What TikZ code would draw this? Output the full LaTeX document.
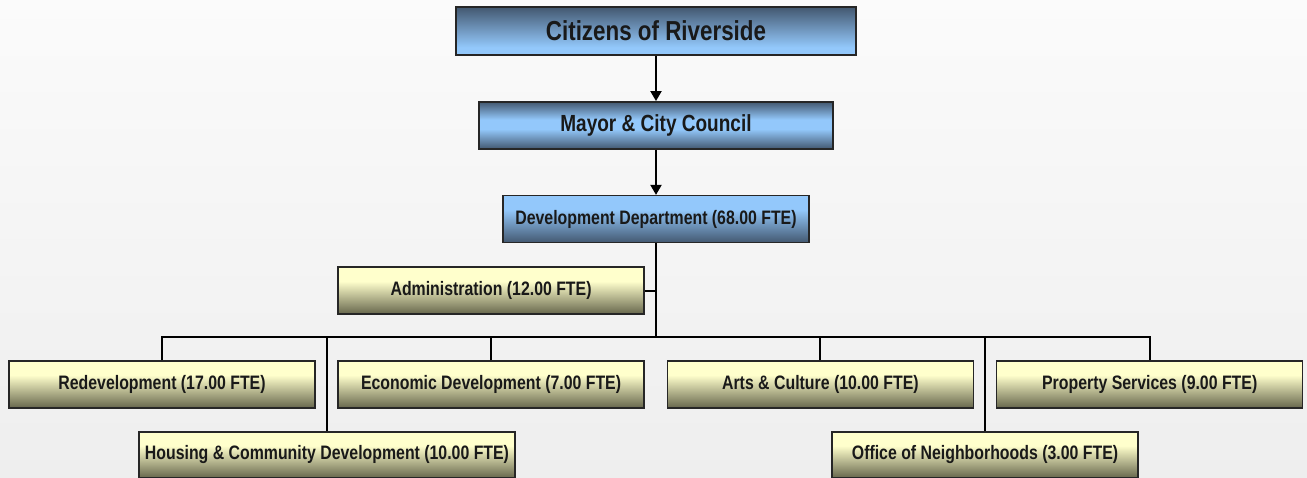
\documentclass[tikz,border=0pt]{standalone}
\usepackage{fontspec}
\setmainfont{Liberation Sans}[FakeStretch=0.815]
\usetikzlibrary{positioning,arrows.meta}

\definecolor{skyblue}{HTML}{93C8FB}
\definecolor{slateblue}{HTML}{435870}
\definecolor{paleyellow}{HTML}{FFFFCC}
\definecolor{drab}{HTML}{66664C}
\definecolor{bgtop}{HTML}{FBFBFB}
\definecolor{bgbottom}{HTML}{E1E1E1}

% vertical shadings: 25bp = bottom edge, 75bp = top edge of the box
\pgfdeclareverticalshading{darktop}{100bp}{color(0bp)=(skyblue); color(25bp)=(skyblue); color(33bp)=(skyblue); color(75bp)=(slateblue); color(100bp)=(slateblue)}
\pgfdeclareverticalshading{darkedges}{100bp}{color(0bp)=(slateblue); color(25bp)=(slateblue); color(46bp)=(skyblue); color(56bp)=(skyblue); color(75bp)=(slateblue); color(100bp)=(slateblue)}
\pgfdeclareverticalshading{darkbottom}{100bp}{color(0bp)=(slateblue); color(25bp)=(slateblue); color(60bp)=(skyblue); color(75bp)=(skyblue); color(100bp)=(skyblue)}
\pgfdeclareverticalshading{olivebottom}{100bp}{color(0bp)=(drab); color(25bp)=(drab); color(60bp)=(paleyellow); color(75bp)=(paleyellow); color(100bp)=(paleyellow)}

\begin{document}
\begin{tikzpicture}[x=0.75pt, y=-0.75pt, node distance=34pt]
    \tikzstyle{box}=[draw=black!85, line width=1.1pt, inner sep=0pt, text=black!90, shade]
    \tikzstyle{head}=[box, minimum width=229.5pt, minimum height=35.25pt, font=\bfseries\fontsize{14.6}{16}\selectfont]
    \tikzstyle{unit}=[box, shading=olivebottom, minimum width=229.5pt, minimum height=35.25pt, font=\bfseries\fontsize{14.6}{16}\selectfont]
    \tikzstyle{connect}=[-{Triangle[width=8.25pt,length=7.5pt]}, line width=1.5pt]
    \tikzstyle{tree}=[line width=1.5pt, line join=miter]

      % page background
      \shade[top color=bgtop, bottom color=bgtop!50!bgbottom] (0,0) rectangle (1307,478);
      \useasboundingbox (0,0) rectangle (1307,478);

      \node[head, shading=darktop, minimum width=300pt, minimum height=36pt, font=\bfseries\fontsize{20.6}{24}\selectfont] (citizens) at (656,31) {Citizens of Riverside};
      \node[head, shading=darkedges, minimum width=265.5pt, font=\bfseries\fontsize{17.5}{20}\selectfont] (mayor) [below=of citizens] {Mayor \& City Council};
      \node[head, shading=darkbottom] (dept) [below=of mayor] {Development Department (68.00 FTE)};

      \node[unit] (redev) at (162,384.5) {Redevelopment (17.00 FTE)};
      \node[unit] (econ) [right=16.2pt of redev] {Economic Development (7.00 FTE)};
      \node[unit] (arts) [right=16.4pt of econ] {Arts \& Culture (10.00 FTE)};
      \node[unit] (property) [right=16.4pt of arts] {Property Services (9.00 FTE)};
      \node[unit] (admin) [above=of econ] {Administration (12.00 FTE)};
      \node[unit, minimum width=282pt, minimum height=34.5pt] (housing) at (327,455) {Housing \& Community Development (10.00 FTE)};
      \node[unit, minimum height=34.5pt] (neighborhoods) at (985,455) {Office of Neighborhoods (3.00 FTE)};

      \coordinate (bus) at (656,337);

      \path
        (citizens) edge [connect] (mayor)
        (mayor) edge [connect] (dept);
      \draw[tree] (dept.south) -- (bus);
      \draw[tree] (admin.east) -- (admin.east -| dept.south);
      \draw[tree] (redev.north) |- (bus) -| (property.north);
      \draw[tree] (econ.north) -- (econ.north |- bus);
      \draw[tree] (arts.north) -- (arts.north |- bus);
      \draw[tree] (housing.north) -- (housing.north |- bus);
      \draw[tree] (neighborhoods.north) -- (neighborhoods.north |- bus);
    \end{tikzpicture}
\end{document}
